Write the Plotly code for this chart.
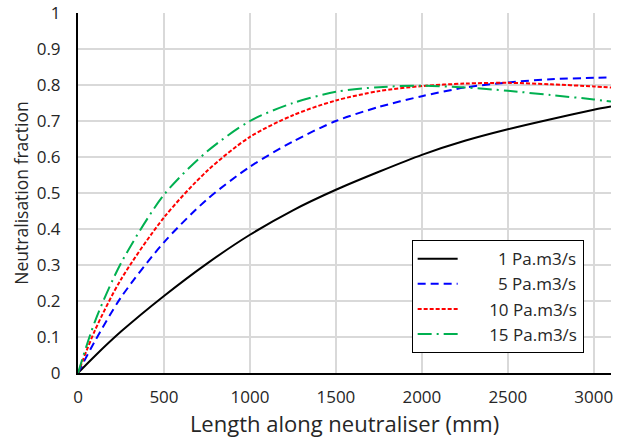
import plotly.graph_objects as go

x_mm = [0, 100, 250, 500, 750, 1000, 1250, 1500, 1750, 2000, 2250, 2500, 2750, 3000, 3100]

q1 = [0, 0.048, 0.115, 0.214, 0.304, 0.384, 0.452, 0.509, 0.559, 0.606, 0.645, 0.677, 0.705, 0.731, 0.740]
q5 = [0, 0.090, 0.210, 0.363, 0.482, 0.573, 0.643, 0.700, 0.739, 0.769, 0.793, 0.807, 0.816, 0.820, 0.821]
q10 = [0, 0.120, 0.260, 0.432, 0.561, 0.656, 0.716, 0.757, 0.783, 0.797, 0.804, 0.806, 0.802, 0.796, 0.793]
q15 = [0, 0.145, 0.305, 0.495, 0.615, 0.700, 0.750, 0.781, 0.794, 0.798, 0.793, 0.784, 0.772, 0.760, 0.754]

series_names = ["1 Pa.m3/s", "5 Pa.m3/s", "10 Pa.m3/s", "15 Pa.m3/s"]
series_vals = [q1, q5, q10, q15]
colors = ["#000000", "#0000FF", "#FF0000", "#00B050"]
dashes = ["solid", "8px,5px", "4px,2px", "14px,5px,2px,5px"]

x_ticks = [0, 500, 1000, 1500, 2000, 2500, 3000]
y_ticks = [0, 0.1, 0.2, 0.3, 0.4, 0.5, 0.6, 0.7, 0.8, 0.9, 1]
y_tick_text = ["0", "0.1", "0.2", "0.3", "0.4", "0.5", "0.6", "0.7", "0.8", "0.9", "1"]

FONT = "Open Sans"
TXT = "#262626"
NB = "\u00a0"


def padded(name):
    # right-align legend labels like the reference
    n = 8 if len(name.split(" ")[0]) == 1 else 6
    return NB * n + name


fig = go.Figure()
for name, vals, c, d in zip(series_names, series_vals, colors, dashes):
    fig.add_trace(go.Scatter(
        x=x_mm, y=vals, mode="lines", name=padded(name),
        line=dict(color=c, width=2, dash=d, shape="spline", smoothing=0.8),
    ))

fig.update_layout(
    width=626, height=438,
    margin=dict(l=78, r=15, t=13, b=65),
    paper_bgcolor="white", plot_bgcolor="white",
    font=dict(family=FONT, size=16, color=TXT),
    showlegend=True,
    legend=dict(
        x=0.626, y=0.369, xanchor="left", yanchor="top",
        bgcolor="white", bordercolor="#000000", borderwidth=1,
        font=dict(family=FONT, size=17, color=TXT),
        tracegroupgap=0, itemwidth=40,
    ),
    xaxis=dict(
        range=[0, 3100], tickvals=x_ticks, ticktext=[str(v) for v in x_ticks],
        showgrid=True, gridcolor="#D9D9D9", gridwidth=1.5,
        showline=True, linecolor="#000000", linewidth=2,
        zeroline=False, ticks="", automargin=False,
        ticklabelstandoff=8,
        title=dict(text="Length along neutraliser (mm)", standoff=15,
                   font=dict(family=FONT, size=22, color=TXT)),
        tickfont=dict(family=FONT, size=17, color=TXT),
    ),
    yaxis=dict(
        range=[0, 1], tickvals=y_ticks, ticktext=y_tick_text,
        showgrid=True, gridcolor="#D9D9D9", gridwidth=1.5,
        showline=True, linecolor="#000000", linewidth=2,
        zeroline=False, ticks="", automargin=False,
        ticklabelstandoff=12, ticklabeloverflow="allow",
        title=dict(text="Neutralisation fraction", standoff=4,
                   font=dict(family=FONT, size=17.5, color=TXT)),
        tickfont=dict(family=FONT, size=17, color=TXT),
    ),
)

fig.write_html(
    "out.html",
    config={"displayModeBar": False},
    post_script="document.body.style.margin='0';document.body.style.overflow='hidden';",
)
